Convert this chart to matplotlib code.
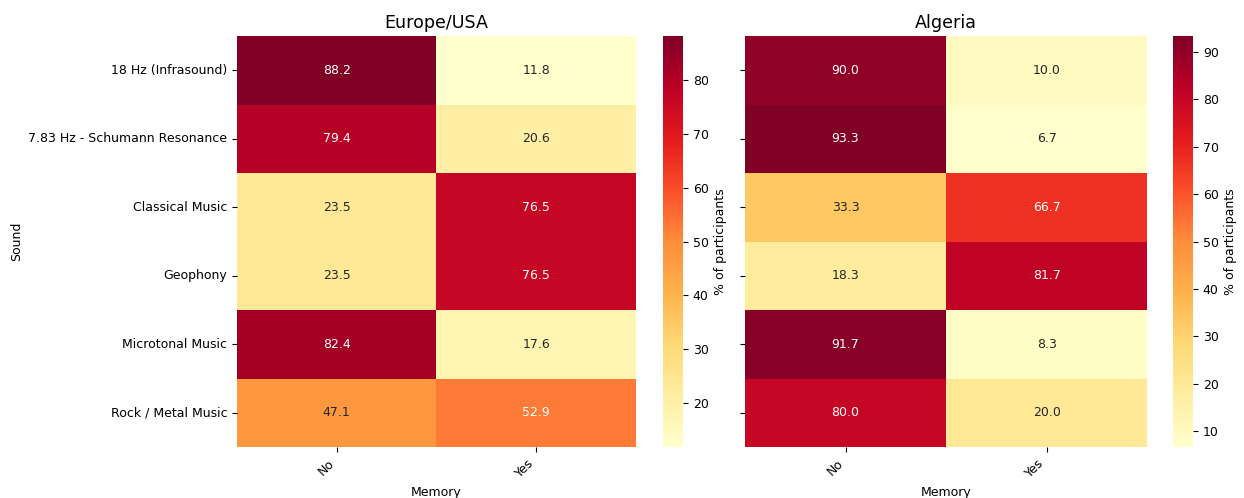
import numpy as np
import pandas as pd
import matplotlib
matplotlib.use("Agg")
import matplotlib.pyplot as plt
import seaborn as sns

sounds = ["18 Hz (Infrasound)", "7.83 Hz - Schumann Resonance", "Classical Music",
          "Geophony", "Microtonal Music", "Rock / Metal Music"]
memory = ["No", "Yes"]

# % of participants, columns No / Yes
eu_no = [88.2, 79.4, 23.5, 23.5, 82.4, 47.1]
eu_yes = [11.8, 20.6, 76.5, 76.5, 17.6, 52.9]
dz_no = [90.0, 93.3, 33.3, 18.3, 91.7, 80.0]
dz_yes = [10.0, 6.7, 66.7, 81.7, 8.3, 20.0]

eu = pd.DataFrame({"No": eu_no, "Yes": eu_yes}, index=sounds)
dz = pd.DataFrame({"No": dz_no, "Yes": dz_yes}, index=sounds)

plt.rcParams["font.size"] = 9.0

fig = plt.figure(figsize=(12.44, 4.98), dpi=100)
ax1 = fig.add_axes([0.1905, 0.1024, 0.3207, 0.8253])
cax1 = fig.add_axes([0.533, 0.1024, 0.0161, 0.8253])
ax2 = fig.add_axes([0.5989, 0.1024, 0.3232, 0.8253], sharey=ax1)
cax2 = fig.add_axes([0.943, 0.1024, 0.0161, 0.8253])

for ax, cax, df, title in [(ax1, cax1, eu, "Europe/USA"), (ax2, cax2, dz, "Algeria")]:
    sns.heatmap(df, ax=ax, cbar_ax=cax, cmap="YlOrRd", annot=True, fmt=".1f",
                annot_kws={"fontsize": 9.0},
                cbar_kws={"label": "% of participants"})
    ax.set_title(title, fontsize=12.6)
    ax.set_xlabel("Memory")
    ax.set_xticklabels(memory, rotation=45, ha="right")

ax1.set_ylabel("Sound")
ax1.set_yticklabels(sounds, rotation=0)
ax2.set_ylabel("")
ax2.tick_params(axis="y", labelleft=False)

fig.savefig("out.png", dpi=100)
